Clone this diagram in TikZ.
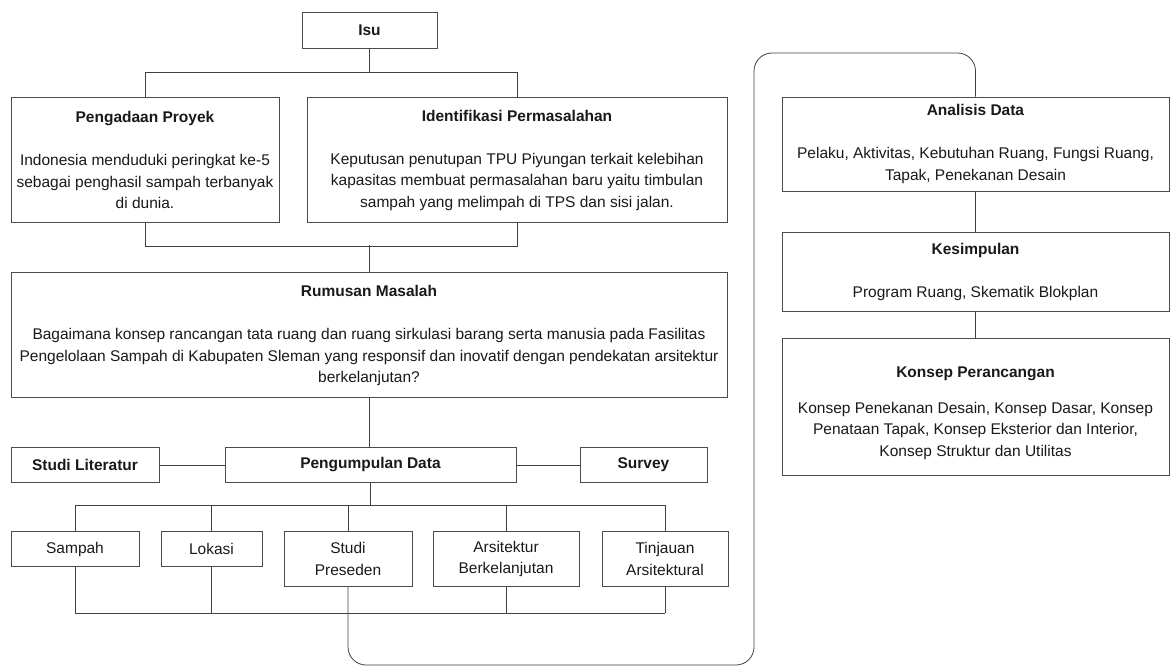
\documentclass[tikz,border=0pt]{standalone}
\usepackage{fontspec}
\setmainfont{Liberation Sans}
\usetikzlibrary{positioning}

\begin{document}
\begin{tikzpicture}[x=1pt,y=-1pt,
    kotak/.style={draw=black!70, line width=0.8pt, align=center, inner sep=0pt,
        text=black!90, font=\fontsize{15.5}{21.5}\selectfont},
    garis/.style={draw=black!75, line width=0.8pt}]
    \useasboundingbox (0,0) rectangle (1170,666);

    \node[kotak, minimum width=135pt, minimum height=35.6pt] (isu) at (369.5,30.5) {\textbf{Isu}};
    \node[kotak, minimum width=268pt, minimum height=125.7pt] (pengadaan) at (145,160)
        {\textbf{Pengadaan Proyek}\\[21.5pt]
         Indonesia menduduki peringkat ke-5\\
         sebagai penghasil sampah terbanyak\\
         di dunia.};
    \node[kotak, minimum width=420pt, minimum height=125.7pt] (identifikasi) at (517,160)
        {\textbf{Identifikasi Permasalahan}\\[21.5pt]
         Keputusan penutupan TPU Piyungan terkait kelebihan\\
         kapasitas membuat permasalahan baru yaitu timbulan\\
         sampah yang melimpah di TPS dan sisi jalan.};
    \node[kotak, minimum width=716pt, minimum height=125pt] (rumusan) at (369,334.5)
        {\rule{0pt}{14pt}\textbf{Rumusan Masalah}\\[21.5pt]
         Bagaimana konsep rancangan tata ruang dan ruang sirkulasi barang serta manusia pada Fasilitas\\
         Pengelolaan Sampah di Kabupaten Sleman yang responsif dan inovatif dengan pendekatan arsitektur\\
         berkelanjutan?};

    \node[kotak, minimum width=148pt, minimum height=35pt] (literatur) at (85,465) {\textbf{Studi Literatur}};
    \node[kotak, minimum width=291pt, minimum height=35pt] (pengumpulan) at (370.5,465) {\textbf{Pengumpulan Data}};
    \node[kotak, minimum width=127pt, minimum height=35pt] (survey) at (643.5,465) {\textbf{Survey}};

    \node[kotak, minimum width=128pt, minimum height=35pt] (sampah) at (75,549) {Sampah};
    \node[kotak, minimum width=101pt, minimum height=35pt] (lokasi) at (211.5,549) {Lokasi};
    \node[kotak, minimum width=128pt, minimum height=55pt] (preseden) at (348,559) {Studi\\ Preseden};
    \node[kotak, minimum width=146pt, minimum height=55pt] (arsitektur) at (506,559) {Arsitektur\\ Berkelanjutan};
    \node[kotak, minimum width=126pt, minimum height=55pt] (tinjauan) at (665,559) {Tinjauan\\ Arsitektural};

    \node[kotak, minimum width=387pt, minimum height=94pt] (analisis) at (975.5,144)
        {\textbf{Analisis Data}\\[21.5pt]
         Pelaku, Aktivitas, Kebutuhan Ruang, Fungsi Ruang,\\
         Tapak, Penekanan Desain};
    \node[kotak, minimum width=387pt, minimum height=79pt] (kesimpulan) at (975.5,271.5)
        {\textbf{Kesimpulan}\\[21.5pt]
         Program Ruang, Skematik Blokplan};
    \node[kotak, minimum width=387pt, minimum height=137pt] (konsep) at (975.5,406.5)
        {\rule{0pt}{24pt}\textbf{Konsep Perancangan}\\[14pt]
         Konsep Penekanan Desain, Konsep Dasar, Konsep\\
         Penataan Tapak, Konsep Eksterior dan Interior,\\
         Konsep Struktur dan Utilitas};

    \draw[garis] (isu.south) -- ++(0,24.4);
    \draw[garis] (pengadaan.north) -- ++(0,-24.6) -| (identifikasi.north);
    \draw[garis] (pengadaan.south) -- ++(0,23) -| (identifikasi.south);
    \draw[garis] (rumusan.north) -- ++(0,-26.3);
    \draw[garis] (rumusan.south) -- (rumusan.south |- pengumpulan.north);
    \draw[garis] (literatur) -- (pengumpulan);
    \draw[garis] (pengumpulan) -- (survey);

    \draw[garis] (pengumpulan.south) -- ++(0,22.3) coordinate (bagi);
    \draw[garis] (sampah.north |- bagi) -- (tinjauan.north |- bagi);
    \foreach \n in {sampah,lokasi,preseden,arsitektur,tinjauan}
        \draw[garis] (\n.north) -- (\n.north |- bagi);
    \coordinate (gabung) at (0,613);
    \draw[garis] (sampah.south |- gabung) -- (tinjauan.south |- gabung);
    \foreach \n in {sampah,lokasi,arsitektur,tinjauan}
        \draw[garis] (\n.south) -- (\n.south |- gabung);
    \draw[garis, rounded corners=18pt] (preseden.south) -- (preseden.south |- 0,665)
        -- (754,665) -- (754,53) -- (analisis.north |- 0,53) -- (analisis.north);

    \draw[garis] (analisis) -- (kesimpulan);
    \draw[garis] (kesimpulan) -- (konsep);
\end{tikzpicture}
\end{document}
